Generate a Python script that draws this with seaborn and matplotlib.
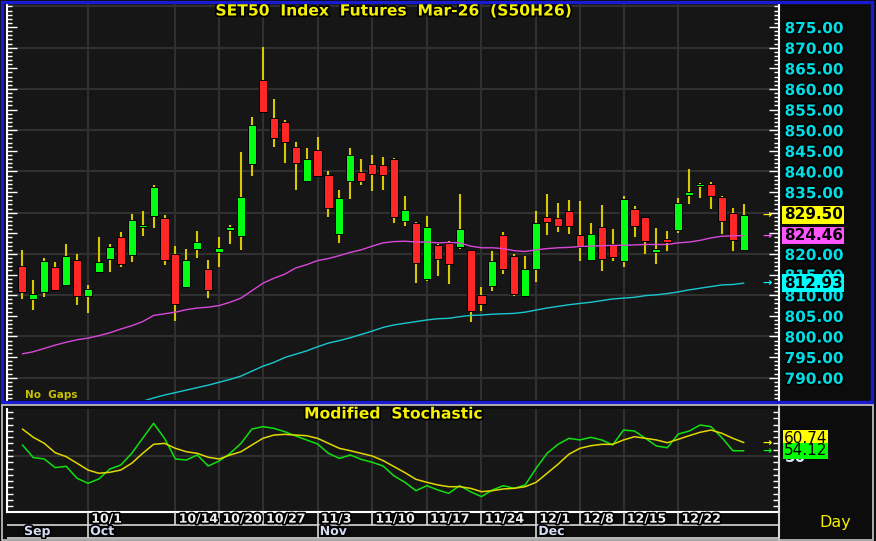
import numpy as np
import seaborn as sns
import matplotlib.pyplot as plt
import matplotlib.patheffects as pe
import matplotlib.transforms as mtrans
from matplotlib.patches import Rectangle
from matplotlib.ticker import MultipleLocator, FormatStrFormatter

# Daily candles, 23 Sep - 30 Dec (Thai trading days)
opens = [817.1, 809.2, 810.9, 816.8, 812.4, 818.6, 809.7, 815.6, 818.9, 824.0,
         819.8, 826.6, 829.3, 828.6, 820.1, 812.0, 821.3, 816.3, 820.4, 825.9,
         824.3, 841.9, 862.1, 853.0, 852.0, 846.0, 837.6, 845.1, 839.1, 824.9,
         837.6, 839.8, 841.9, 841.5, 843.1, 827.9, 827.5, 813.9, 822.1, 822.7,
         821.8, 821.0, 810.0, 812.3, 824.5, 819.6, 809.9, 816.3, 829.0, 828.7,
         830.5, 824.5, 818.6, 826.5, 822.3, 818.4, 831.0, 829.0, 820.4, 823.7,
         825.7, 834.4, 836.4, 837.0, 833.8, 830.0, 821.0]
highs = [821.0, 813.7, 819.0, 818.0, 822.5, 820.1, 812.5, 824.1, 822.5, 825.3,
         829.8, 830.4, 836.6, 829.5, 822.0, 821.3, 825.5, 818.6, 824.0, 827.1,
         844.8, 853.3, 870.1, 857.5, 852.5, 847.2, 845.8, 848.4, 840.1, 835.6,
         845.8, 843.1, 844.1, 843.6, 843.3, 834.0, 827.8, 829.1, 822.5, 823.1,
         834.6, 821.0, 811.9, 820.8, 825.3, 820.1, 819.6, 830.5, 834.6, 832.4,
         833.0, 832.8, 827.5, 831.8, 826.1, 834.0, 831.6, 829.0, 826.3, 825.5,
         833.6, 840.7, 837.2, 837.4, 834.0, 831.2, 832.2]
lows = [809.1, 806.5, 809.5, 811.0, 812.2, 807.7, 805.8, 815.4, 815.6, 816.8,
        818.0, 824.3, 826.3, 817.4, 803.8, 811.8, 819.0, 809.3, 816.8, 822.4,
        820.9, 838.9, 854.1, 845.9, 842.1, 835.6, 837.4, 838.9, 828.9, 822.7,
        833.4, 836.7, 835.2, 835.4, 827.4, 826.9, 812.9, 813.5, 814.7, 812.8,
        821.2, 803.4, 806.2, 811.1, 815.1, 809.9, 809.9, 813.1, 824.7, 825.3,
        824.9, 818.4, 818.3, 815.9, 818.2, 816.8, 824.1, 820.0, 817.6, 820.6,
        825.2, 832.2, 833.6, 830.9, 824.9, 820.8, 821.0]
closes = [810.7, 810.3, 818.4, 811.3, 819.6, 809.7, 811.6, 818.0, 821.8, 817.6,
          828.3, 827.1, 836.3, 818.6, 807.9, 818.6, 822.8, 811.3, 821.5, 826.6,
          833.8, 851.3, 854.4, 848.1, 847.1, 842.1, 843.1, 839.0, 831.1, 833.6,
          844.0, 837.6, 839.4, 839.1, 828.9, 830.6, 817.8, 826.6, 818.9, 817.6,
          826.1, 806.2, 807.9, 818.4, 816.3, 810.3, 816.3, 827.5, 827.8, 826.7,
          826.7, 821.8, 824.9, 818.9, 819.2, 833.4, 826.7, 823.2, 821.2, 822.9,
          832.4, 835.1, 837.0, 834.0, 827.9, 823.5, 829.5]

# moving averages
ma_mid = [795.8, 796.3, 797.1, 797.9, 798.6, 799.2, 799.6, 800.2, 800.9, 801.8,
          802.6, 803.6, 805.1, 805.5, 805.9, 806.5, 806.9, 807.1, 807.5, 808.3,
          809.3, 811.1, 812.9, 814.1, 815.1, 816.6, 817.4, 818.4, 818.9, 819.6,
          820.4, 821.0, 821.9, 822.7, 823.0, 823.1, 822.9, 822.9, 822.7, 822.8,
          822.7, 821.9, 821.5, 821.5, 821.3, 820.8, 820.6, 821.0, 821.3, 821.5,
          821.6, 821.8, 821.9, 822.0, 822.1, 822.1, 822.2, 822.3, 822.3, 822.3,
          822.7, 822.9, 823.3, 823.9, 824.3, 824.4, 824.46]
ma_long = [np.nan] * 11 + [
          784.3, 785.1, 785.8, 786.4, 787.0, 787.6, 788.2, 788.9, 789.6,
          790.4, 791.6, 792.8, 793.7, 794.9, 795.7, 796.5, 797.5, 798.4, 799.0,
          799.7, 800.5, 801.3, 802.2, 802.8, 803.2, 803.6, 804.0, 804.3, 804.4,
          804.8, 805.1, 805.2, 805.4, 805.5, 805.6, 805.9, 806.4, 806.9, 807.3,
          807.7, 808.0, 808.3, 808.7, 809.1, 809.3, 809.5, 809.9, 810.1, 810.4,
          810.8, 811.3, 811.7, 812.1, 812.5, 812.6, 812.93]

# modified stochastic
stoch_k = [58.8, 48.7, 47.6, 40.7, 41.8, 32.2, 28.2, 31.7, 39.6, 42.8,
           52.1, 64.1, 76.1, 64.1, 47.6, 46.8, 50.8, 42.0, 46.0, 52.1,
           60.1, 71.5, 73.4, 72.1, 69.4, 66.0, 62.8, 59.6, 52.1, 48.1,
           50.8, 47.3, 45.0, 42.0, 34.1, 29.0, 22.3, 26.3, 22.9, 20.2,
           26.3, 21.5, 17.6, 22.9, 26.3, 24.2, 26.9, 40.2, 52.1, 59.3,
           64.1, 62.8, 64.9, 62.8, 58.8, 70.7, 69.9, 64.1, 58.0, 56.6,
           67.5, 69.9, 74.7, 73.4, 64.6, 54.2, 54.12]
stoch_d = [71.5, 64.9, 60.1, 52.6, 49.5, 44.2, 38.8, 36.2, 37.0, 38.8,
           44.2, 52.1, 59.3, 60.1, 56.1, 53.4, 52.1, 49.0, 47.6, 50.8,
           53.4, 58.8, 64.1, 66.7, 67.3, 66.7, 66.2, 64.1, 60.1, 56.1,
           54.2, 52.1, 50.0, 46.3, 41.5, 36.7, 31.4, 29.0, 26.9, 25.5,
           25.5, 24.2, 21.5, 22.3, 23.7, 24.2, 25.5, 29.0, 36.2, 43.4,
           51.4, 56.1, 58.2, 59.3, 59.3, 62.8, 65.4, 64.1, 62.8, 60.6,
           63.3, 66.2, 68.9, 70.7, 68.1, 64.1, 60.74]

week_idx = [6, 14, 18, 22, 27, 32, 37, 42, 47, 51, 55, 60]
week_lbl = ['10/1', '10/14', '10/20', '10/27', '11/3', '11/10', '11/17',
            '11/24', '12/1', '12/8', '12/15', '12/22']
month_idx = [0, 6, 27, 47]
month_lbl = ['Sep', 'Oct', 'Nov', 'Dec']

BG = '#161616'
FIG = '#0c0c0c'
GRID = '#303030'
WICK = '#d8c800'
RED = '#ff2626'
GREEN = '#00ff10'
YEL = '#f4f000'
MAG = '#d848d8'
CYAN = '#18c8d0'

sns.set_theme(style='dark', rc={'axes.facecolor': BG, 'figure.facecolor': FIG,
                                'axes.grid': False})
plt.rcParams['font.family'] = ['DejaVu Sans']

fig = plt.figure(figsize=(8.76, 5.41), dpi=100)


def fx(px):
    return px / 876


def fy(py):
    return 1 - py / 541


L = fx(7)
W = fx(779) - fx(7)
ax = fig.add_axes([L, fy(400), W, fy(4) - fy(400)])
ax2 = fig.add_axes([L, fy(512), W, fy(409) - fy(512)])
ax3 = fig.add_axes([L, fy(538), W, fy(512) - fy(538)])

x = np.arange(len(opens))
xlim = (-1.41, 69.22)
for a in (ax, ax2, ax3):
    a.set_xlim(xlim)

o = np.array(opens)
c = np.array(closes)
outline = [pe.withStroke(linewidth=2.5, foreground='black')]

# ---- price panel
ax.set_ylim(784.6, 880.6)
for v in range(790, 881, 10):
    ax.axhline(v, color=GRID, lw=1.5, zorder=0)
for i in week_idx:
    ax.axvline(i, color=GRID, lw=1.5, zorder=0)
    ax2.axvline(i, color=GRID, lw=1.5, zorder=0)
ax2.axhline(50, color=GRID, lw=1.5, zorder=0)

ax.vlines(x, lows, highs, color=WICK, lw=1.5, zorder=2)
body = np.maximum(np.abs(c - o), 0.45)
ax.bar(x, body, bottom=np.minimum(o, c), width=0.74,
       color=[GREEN if cc >= oo else RED for oo, cc in zip(o, c)],
       edgecolor='black', linewidth=0.7, zorder=3)

sns.lineplot(x=x, y=ma_mid, ax=ax, color=MAG, lw=1.0, zorder=4)
sns.lineplot(x=x, y=ma_long, ax=ax, color=CYAN, lw=1.0, zorder=4)

ax.yaxis.tick_right()
ax.set_yticks(np.arange(790, 876, 5))
ax.yaxis.set_major_formatter(FormatStrFormatter('%.2f'))
ax.yaxis.set_minor_locator(MultipleLocator(1))
ax.tick_params(axis='y', which='both', direction='in', left=True, right=True,
               labelleft=False, labelright=True, colors='white',
               labelcolor='#00dde4', labelsize=11, pad=4)
ax.tick_params(axis='y', which='major', length=7, width=1)
ax.tick_params(axis='y', which='minor', length=3.5, width=1)
ax.tick_params(axis='x', bottom=False, labelbottom=False)
for lbl in ax.get_yticklabels():
    lbl.set_fontweight('bold')
    lbl.set_path_effects(outline)
for s in ('top', 'bottom'):
    ax.spines[s].set_visible(False)
for s in ('left', 'right'):
    ax.spines[s].set_color('white')
    ax.spines[s].set_linewidth(1.5)
ax.set_xlabel('')
ax.set_ylabel('')

ax.text(0.5, (400 - 11) / 396, 'SET50  Index  Futures  Mar-26  (S50H26)',
        transform=ax.transAxes, ha='center', va='center', color=YEL,
        fontsize=11.2, fontweight='bold', path_effects=outline)
ax.text(0.023, 0.013, 'No  Gaps', transform=ax.transAxes, ha='left',
        va='center', color='#c8c000', fontsize=7.5, fontweight='bold')

tr = mtrans.blended_transform_factory(ax.transAxes, ax.transData)
for val, fc in [(closes[-1], '#ffff00'), (ma_mid[-1], '#ff55ff'),
                (ma_long[-1], '#00ffff')]:
    ax.text(1.006, val, f'{val:.2f}', transform=tr, ha='left', va='center',
            color='black', fontsize=11, fontweight='bold', zorder=10,
            bbox=dict(boxstyle='square,pad=0.08', fc=fc, ec='none'))
    ax.text(0.9845, val, '→', transform=tr, ha='center', va='center',
            color=fc, fontsize=8, fontweight='bold', zorder=10)

# ---- stochastic panel
ax2.set_ylim(5.3, 87.5)
sns.lineplot(x=x, y=stoch_k, ax=ax2, color='#10e010', lw=1.1, zorder=3)
sns.lineplot(x=x, y=stoch_d, ax=ax2, color='#e0d800', lw=1.1, zorder=4)
ax2.yaxis.set_major_locator(MultipleLocator(5))
ax2.tick_params(axis='y', which='major', direction='in', left=True, right=True,
                labelleft=False, labelright=False, colors='white',
                length=4, width=1)
ax2.tick_params(axis='x', bottom=False, labelbottom=False)
ax2.spines['top'].set_visible(False)
for s in ('left', 'right', 'bottom'):
    ax2.spines[s].set_color('white')
    ax2.spines[s].set_linewidth(1.5)
ax2.set_xlabel('')
ax2.set_ylabel('')
ax2.text(0.5, (512 - 414) / 103, 'Modified  Stochastic', transform=ax2.transAxes,
         ha='center', va='center', color=YEL, fontsize=11.2, fontweight='bold',
         path_effects=outline)

tr2 = mtrans.blended_transform_factory(ax2.transAxes, ax2.transData)
ax2.text(1.008, 49.0, '50', transform=tr2, ha='left', va='center',
         color='#dfe6ff', fontsize=11, fontweight='bold', zorder=1)
for val, ypos, fc in [(stoch_d[-1], 64.3, '#ffff00'),
                      (stoch_k[-1], 54.12, '#00ff00')]:
    ax2.text(1.006, ypos, f'{val:.2f}', transform=tr2, ha='left', va='center',
             color='black', fontsize=11, zorder=10,
             bbox=dict(boxstyle='square,pad=0.05', fc=fc, ec='none'))
    ax2.text(0.9845, val, '→', transform=tr2, ha='center', va='center',
             color=fc, fontsize=8, fontweight='bold', zorder=10)

# ---- date strip
ax3.set_ylim(0, 2)
ax3.axis('off')
LW = '#d8d8d8'
ax3.hlines([1, 0.03], xlim[0], xlim[1], color=LW, lw=1.2, clip_on=False)
ax3.vlines(week_idx, 1, 2, color=LW, lw=1.2)
ax3.vlines(month_idx[1:], 0, 1, color=LW, lw=1.2)
ax3.vlines([xlim[1]], 0, 2, color=LW, lw=1.5, clip_on=False)
for i, lab in zip(week_idx, week_lbl):
    ax3.text(i + 0.3, 1.45, lab, ha='left', va='center', color='#ececec',
             fontsize=9, fontweight='bold', path_effects=outline)
for i, lab in zip(month_idx, month_lbl):
    ax3.text(i + 0.2 if i else 0.15, 0.5, lab, ha='left', va='center',
             color='#d4dcf4', fontsize=9, fontweight='bold',
             path_effects=outline)

fig.text(fx(835), fy(523), 'Day', ha='center', va='center', color=YEL,
         fontsize=11.5)

# frames
fig.add_artist(Rectangle((fx(1.5), fy(401.5)), fx(872) - fx(1.5),
                         fy(1.5) - fy(401.5), transform=fig.transFigure,
                         fill=False, ec='#1a1ad0', lw=2.4))
fig.add_artist(Rectangle((fx(2), fy(539.5)), fx(873) - fx(2),
                         fy(405) - fy(539.5), transform=fig.transFigure,
                         fill=False, ec='#c8c8c8', lw=1.2))
fig.add_artist(plt.Line2D([fx(779), fx(779)], [fy(405), fy(539.5)],
                          transform=fig.transFigure, color=LW, lw=1.2))

fig.savefig('out.png', dpi=100, facecolor=FIG)
